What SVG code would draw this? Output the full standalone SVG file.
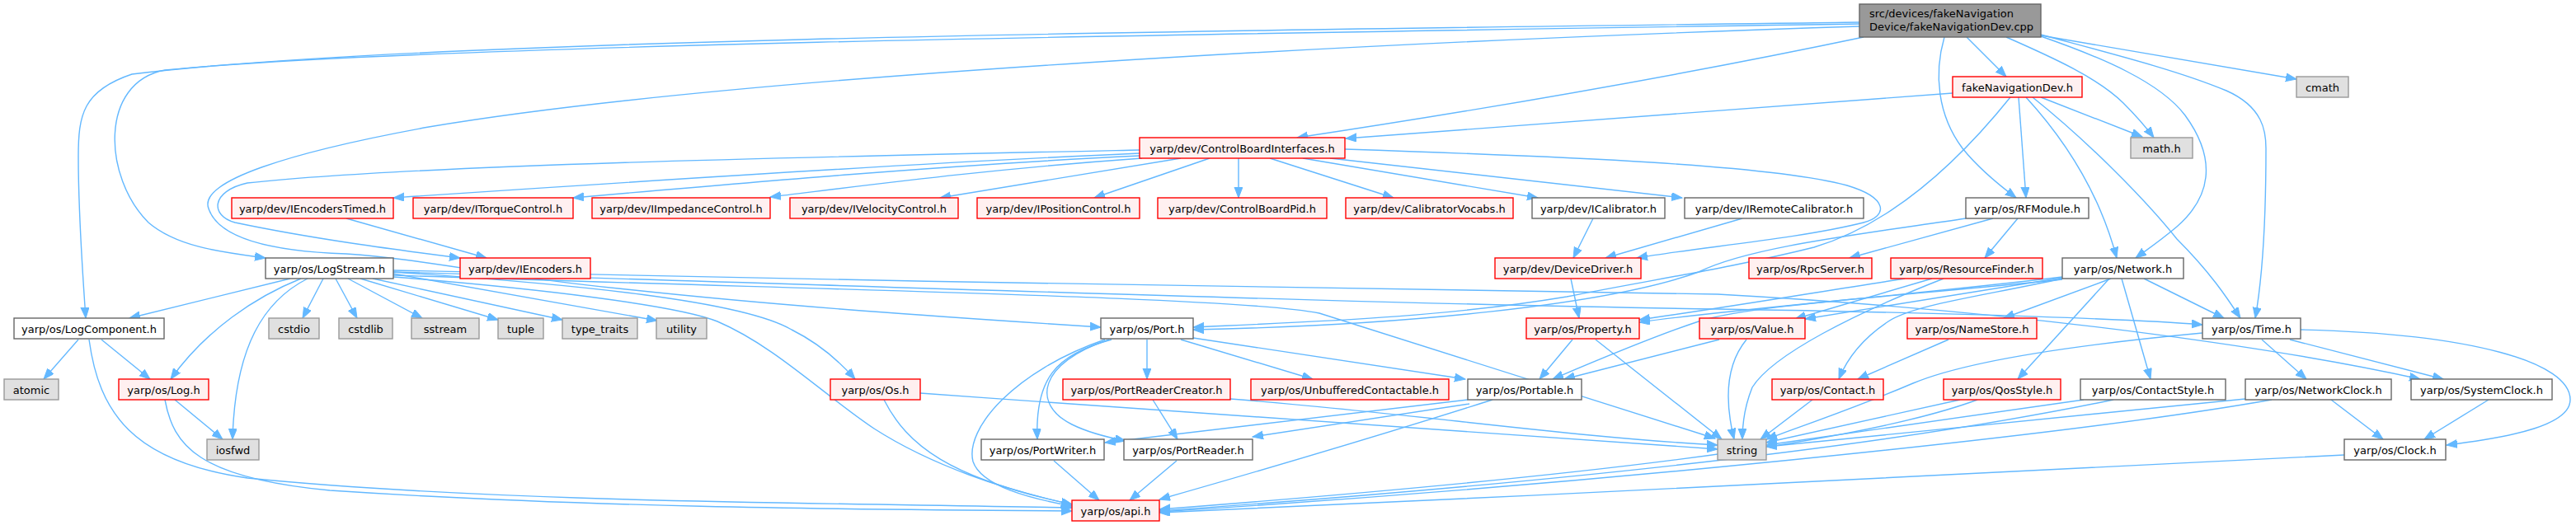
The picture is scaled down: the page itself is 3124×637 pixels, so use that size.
<svg xmlns="http://www.w3.org/2000/svg" width="3124" height="637" viewBox="0 0 3124 637">
<style>
rect{stroke-width:1.4}
.w{fill:#ffffff;stroke:#666666}
.r{fill:#fff0f0;stroke:#ff0000}
.g{fill:#e0e0e0;stroke:#999999}
.root{fill:#999999;stroke:#666666}
text{font-family:"DejaVu Sans","Liberation Sans",sans-serif;font-size:13px;fill:#000;text-anchor:middle}
text.l{text-anchor:start}
#edges path{fill:none;stroke:#63b8ff;stroke-width:1.4;marker-end:url(#a)}
</style>
<defs>
<marker id="a" markerUnits="userSpaceOnUse" markerWidth="14" markerHeight="11" refX="13" refY="5" orient="auto">
<path d="M0,0 L13,5 L0,10 z" fill="#63b8ff" stroke="#63b8ff" stroke-width="1"/>
</marker>
</defs>
<rect width="3124" height="637" fill="#ffffff"/>
<g id="edges">
<path d="M2385,45 L2433,93"/>
<path d="M2260,45 Q1950,110 1573,167"/>
<path d="M2255,29 C1400,42 500,55 200,85 C120,100 125,215 180,270 C215,300 270,306 322,313"/>
<path d="M2255,27 C1400,38 500,48 160,90 C100,110 95,140 95,190 C95,260 100,330 104,386"/>
<path d="M2255,32 C1700,50 900,90 520,154 C350,185 240,220 253,253 C265,290 330,305 420,308 C520,315 600,335 750,350 C950,372 1150,385 1335,397"/>
<path d="M2358,45 C2345,90 2350,140 2380,180 C2400,205 2425,225 2445,240"/>
<path d="M2475,44 C2550,70 2620,100 2650,140 C2690,195 2680,240 2640,275 C2620,292 2605,302 2590,313"/>
<path d="M2475,42 C2560,65 2640,85 2700,110 C2745,130 2748,160 2748,180 C2748,260 2745,330 2735,386"/>
<path d="M2433,45 C2490,70 2545,95 2575,125 C2590,140 2603,155 2612,167"/>
<path d="M2475,43 L2785,96"/>
<path d="M2368,113 Q2000,140 1632,168"/>
<path d="M2448,118 L2457,240"/>
<path d="M2457,118 C2500,165 2545,230 2567,313"/>
<path d="M2465,118 C2530,170 2600,240 2640,290 C2680,330 2700,360 2717,386"/>
<path d="M2475,118 L2598,166"/>
<path d="M2438,118 C2380,190 2300,270 2200,300 C2100,325 2000,340 1900,360 C1750,385 1600,390 1447,397"/>
<path d="M2417,265 L2243,313"/>
<path d="M2447,265 L2407,313"/>
<path d="M2384,265 C2250,285 2120,300 2060,330 C1950,370 1700,395 1447,400"/>
<path d="M1382,186 C1100,198 700,225 477,240"/>
<path d="M1382,189 C1150,200 900,222 695,240"/>
<path d="M1385,192 C1200,205 1050,225 934,239"/>
<path d="M1432,192 L1140,240"/>
<path d="M1467,192 L1327,240"/>
<path d="M1502,192 L1502,240"/>
<path d="M1540,192 L1690,240"/>
<path d="M1580,192 L1865,240"/>
<path d="M1613,192 L2040,240"/>
<path d="M1631,181 C1900,190 2150,200 2240,225 C2290,240 2290,262 2260,270 C2180,290 2060,300 1985,313"/>
<path d="M1382,182 C1000,190 500,200 300,222 C255,232 255,262 285,270 C380,290 480,303 558,313"/>
<path d="M420,265 L590,313"/>
<path d="M1932,265 L1908,313"/>
<path d="M2113,265 L1947,313"/>
<path d="M1905,338 L1915,386"/>
<path d="M352,338 L157,386"/>
<path d="M365,338 C310,360 250,400 207,460"/>
<path d="M373,338 C320,365 285,420 282,533"/>
<path d="M392,338 L367,386"/>
<path d="M407,338 L433,386"/>
<path d="M422,338 L512,386"/>
<path d="M437,338 L604,388"/>
<path d="M452,338 L682,388"/>
<path d="M477,332 L797,389"/>
<path d="M477,330 C700,345 900,365 960,400 C990,415 1015,435 1037,460"/>
<path d="M477,336 C650,350 820,370 870,390 C940,420 1000,480 1060,520 C1130,565 1220,595 1300,612"/>
<path d="M477,334 C1000,352 1500,360 1600,380 L2080,532"/>
<path d="M477,330 C1000,345 1700,370 2083,375 C2400,380 2600,388 2671,394"/>
<path d="M477,328 C1000,340 1600,350 2083,357 C2500,380 2800,430 2935,460"/>
<path d="M95,412 L53,460"/>
<path d="M123,412 L182,460"/>
<path d="M108,412 C120,500 160,560 300,580 C600,610 1000,610 1300,616"/>
<path d="M212,485 L270,533"/>
<path d="M200,485 C210,540 240,580 400,595 C700,615 1000,618 1300,620"/>
<path d="M1072,485 C1100,540 1150,580 1300,612"/>
<path d="M1116,477 C1500,505 1900,530 2083,545"/>
<path d="M1391,412 L1391,460"/>
<path d="M1348,412 C1280,430 1255,460 1258,533"/>
<path d="M1345,412 C1260,440 1250,490 1300,515 C1320,525 1340,530 1365,535"/>
<path d="M1340,412 C1230,450 1170,520 1180,560 C1190,590 1250,605 1300,614"/>
<path d="M1432,412 L1592,460"/>
<path d="M1447,410 L1777,460"/>
<path d="M1398,485 L1428,533"/>
<path d="M1492,484 C1700,500 1900,530 2083,540"/>
<path d="M1278,559 L1333,607"/>
<path d="M1427,559 L1370,607"/>
<path d="M1780,485 L1340,537"/>
<path d="M1782,490 L1519,530"/>
<path d="M1810,485 C1700,520 1550,565 1406,606"/>
<path d="M1907,412 L1867,460"/>
<path d="M1935,412 L2088,533"/>
<path d="M2085,412 L1897,460"/>
<path d="M2118,412 C2095,440 2090,480 2103,533"/>
<path d="M2310,338 C2200,355 2100,372 1988,388"/>
<path d="M2343,338 L2177,387"/>
<path d="M2357,338 C2250,380 2150,430 2125,470 C2115,495 2113,515 2113,533"/>
<path d="M2501,336 C2300,360 2100,375 1988,391"/>
<path d="M2501,337 L2189,387"/>
<path d="M2501,338 C2400,360 2320,370 2290,390 C2260,410 2240,435 2230,460"/>
<path d="M2501,339 C2300,360 2120,370 2060,390 C2000,410 1930,440 1883,460"/>
<path d="M2560,338 L2430,386"/>
<path d="M2558,338 L2447,460"/>
<path d="M2573,338 L2608,460"/>
<path d="M2600,338 L2697,386"/>
<path d="M2363,412 L2253,460"/>
<path d="M2198,485 L2135,533"/>
<path d="M2377,485 L2142,537"/>
<path d="M2398,485 C2250,540 1900,580 1406,618"/>
<path d="M2527,485 L2142,540"/>
<path d="M2563,485 C2300,540 1900,585 1406,620"/>
<path d="M2743,412 L2797,460"/>
<path d="M2777,412 L2963,460"/>
<path d="M2790,400 C3000,405 3117,440 3117,485 C3117,515 3050,530 2967,540"/>
<path d="M2671,404 C2500,420 2380,440 2320,465 C2250,495 2190,515 2142,533"/>
<path d="M2843,552 C2500,570 1900,600 1406,622"/>
<path d="M2723,484 L2142,542"/>
<path d="M2755,485 C2500,530 1900,590 1406,621"/>
<path d="M2827,485 L2890,533"/>
<path d="M3018,485 L2940,533"/>
</g>
<g id="n_root"><rect class="root" x="2255" y="5" width="220" height="40"/><text class="l" x="2267" y="21">src/devices/fakeNavigation</text><text class="l" x="2267" y="37">Device/fakeNavigationDev.cpp</text></g>
<g id="n_fnd"><rect class="r" x="2368" y="93" width="157" height="25"/><text x="2446.5" y="110.5">fakeNavigationDev.h</text></g>
<g id="n_cmath"><rect class="g" x="2785" y="93" width="63" height="25"/><text x="2816.5" y="110.5">cmath</text></g>
<g id="n_cbi"><rect class="r" x="1382" y="167" width="249" height="25"/><text x="1506.5" y="184.5">yarp/dev/ControlBoardInterfaces.h</text></g>
<g id="n_mathh"><rect class="g" x="2584" y="167" width="75" height="25"/><text x="2621.5" y="184.5">math.h</text></g>
<g id="n_iet"><rect class="r" x="281" y="240" width="196" height="25"/><text x="379" y="257.5">yarp/dev/IEncodersTimed.h</text></g>
<g id="n_itc"><rect class="r" x="501" y="240" width="194" height="25"/><text x="598" y="257.5">yarp/dev/ITorqueControl.h</text></g>
<g id="n_iic"><rect class="r" x="718" y="240" width="216" height="25"/><text x="826" y="257.5">yarp/dev/IImpedanceControl.h</text></g>
<g id="n_ivc"><rect class="r" x="958" y="240" width="204" height="25"/><text x="1060" y="257.5">yarp/dev/IVelocityControl.h</text></g>
<g id="n_ipc"><rect class="r" x="1185" y="240" width="197" height="25"/><text x="1283.5" y="257.5">yarp/dev/IPositionControl.h</text></g>
<g id="n_cbp"><rect class="r" x="1404" y="240" width="205" height="25"/><text x="1506.5" y="257.5">yarp/dev/ControlBoardPid.h</text></g>
<g id="n_cv"><rect class="r" x="1632" y="240" width="203" height="25"/><text x="1733.5" y="257.5">yarp/dev/CalibratorVocabs.h</text></g>
<g id="n_ical"><rect class="w" x="1858" y="240" width="161" height="25"/><text x="1938.5" y="257.5">yarp/dev/ICalibrator.h</text></g>
<g id="n_irc"><rect class="w" x="2043" y="240" width="217" height="25"/><text x="2151.5" y="257.5">yarp/dev/IRemoteCalibrator.h</text></g>
<g id="n_rfm"><rect class="w" x="2384" y="240" width="149" height="25"/><text x="2458.5" y="257.5">yarp/os/RFModule.h</text></g>
<g id="n_ls"><rect class="w" x="322" y="313" width="155" height="25"/><text x="399.5" y="330.5">yarp/os/LogStream.h</text></g>
<g id="n_ie"><rect class="r" x="558" y="313" width="158" height="25"/><text x="637" y="330.5">yarp/dev/IEncoders.h</text></g>
<g id="n_dd"><rect class="r" x="1813" y="313" width="177" height="25"/><text x="1901.5" y="330.5">yarp/dev/DeviceDriver.h</text></g>
<g id="n_rpc"><rect class="r" x="2121" y="313" width="149" height="25"/><text x="2195.5" y="330.5">yarp/os/RpcServer.h</text></g>
<g id="n_rf"><rect class="r" x="2293" y="313" width="184" height="25"/><text x="2385" y="330.5">yarp/os/ResourceFinder.h</text></g>
<g id="n_net"><rect class="w" x="2501" y="313" width="147" height="25"/><text x="2574.5" y="330.5">yarp/os/Network.h</text></g>
<g id="n_lc"><rect class="w" x="17" y="386" width="182" height="25"/><text x="108" y="403.5">yarp/os/LogComponent.h</text></g>
<g id="n_cstdio"><rect class="g" x="326" y="386" width="61" height="25"/><text x="356.5" y="403.5">cstdio</text></g>
<g id="n_cstdlib"><rect class="g" x="411" y="386" width="65" height="25"/><text x="443.5" y="403.5">cstdlib</text></g>
<g id="n_sstream"><rect class="g" x="499" y="386" width="82" height="25"/><text x="540" y="403.5">sstream</text></g>
<g id="n_tuple"><rect class="g" x="604" y="386" width="55" height="25"/><text x="631.5" y="403.5">tuple</text></g>
<g id="n_tt"><rect class="g" x="682" y="386" width="91" height="25"/><text x="727.5" y="403.5">type_traits</text></g>
<g id="n_util"><rect class="g" x="796" y="386" width="61" height="25"/><text x="826.5" y="403.5">utility</text></g>
<g id="n_port"><rect class="w" x="1335" y="386" width="112" height="25"/><text x="1391" y="403.5">yarp/os/Port.h</text></g>
<g id="n_prop"><rect class="r" x="1851" y="386" width="137" height="25"/><text x="1919.5" y="403.5">yarp/os/Property.h</text></g>
<g id="n_val"><rect class="r" x="2061" y="386" width="128" height="25"/><text x="2125" y="403.5">yarp/os/Value.h</text></g>
<g id="n_ns"><rect class="r" x="2313" y="386" width="157" height="25"/><text x="2391.5" y="403.5">yarp/os/NameStore.h</text></g>
<g id="n_time"><rect class="w" x="2671" y="386" width="119" height="25"/><text x="2730.5" y="403.5">yarp/os/Time.h</text></g>
<g id="n_atomic"><rect class="g" x="5" y="460" width="66" height="25"/><text x="38" y="477.5">atomic</text></g>
<g id="n_log"><rect class="r" x="144" y="460" width="109" height="25"/><text x="198.5" y="477.5">yarp/os/Log.h</text></g>
<g id="n_os"><rect class="r" x="1007" y="460" width="109" height="25"/><text x="1061.5" y="477.5">yarp/os/Os.h</text></g>
<g id="n_prc"><rect class="r" x="1289" y="460" width="203" height="25"/><text x="1390.5" y="477.5">yarp/os/PortReaderCreator.h</text></g>
<g id="n_uc"><rect class="r" x="1517" y="460" width="240" height="25"/><text x="1637" y="477.5">yarp/os/UnbufferedContactable.h</text></g>
<g id="n_portable"><rect class="w" x="1780" y="460" width="138" height="25"/><text x="1849" y="477.5">yarp/os/Portable.h</text></g>
<g id="n_contact"><rect class="r" x="2149" y="460" width="135" height="25"/><text x="2216.5" y="477.5">yarp/os/Contact.h</text></g>
<g id="n_qos"><rect class="r" x="2357" y="460" width="142" height="25"/><text x="2428" y="477.5">yarp/os/QosStyle.h</text></g>
<g id="n_cs"><rect class="w" x="2523" y="460" width="176" height="25"/><text x="2611" y="477.5">yarp/os/ContactStyle.h</text></g>
<g id="n_nc"><rect class="w" x="2723" y="460" width="177" height="25"/><text x="2811.5" y="477.5">yarp/os/NetworkClock.h</text></g>
<g id="n_sc"><rect class="w" x="2924" y="460" width="171" height="25"/><text x="3009.5" y="477.5">yarp/os/SystemClock.h</text></g>
<g id="n_iosfwd"><rect class="g" x="251" y="533" width="63" height="25"/><text x="282.5" y="550.5">iosfwd</text></g>
<g id="n_pw"><rect class="w" x="1190" y="533" width="149" height="25"/><text x="1264.5" y="550.5">yarp/os/PortWriter.h</text></g>
<g id="n_pr"><rect class="w" x="1363" y="533" width="156" height="25"/><text x="1441" y="550.5">yarp/os/PortReader.h</text></g>
<g id="n_string"><rect class="g" x="2083" y="533" width="59" height="25"/><text x="2112.5" y="550.5">string</text></g>
<g id="n_clock"><rect class="w" x="2843" y="533" width="123" height="25"/><text x="2904.5" y="550.5">yarp/os/Clock.h</text></g>
<g id="n_api"><rect class="r" x="1300" y="607" width="106" height="25"/><text x="1353" y="624.5">yarp/os/api.h</text></g>
</svg>
